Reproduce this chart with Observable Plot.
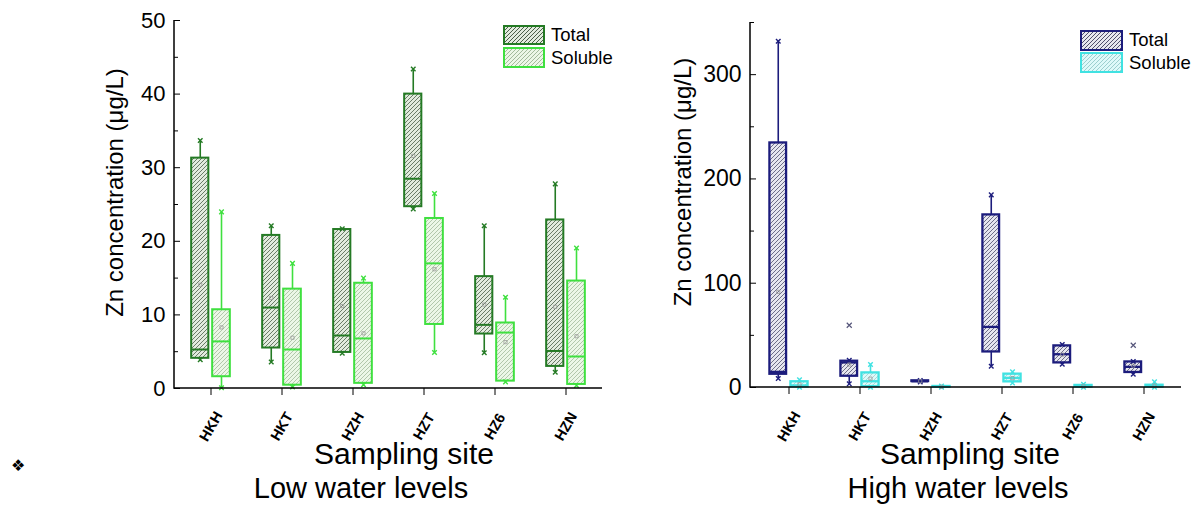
<!DOCTYPE html>
<html><head><meta charset="utf-8">
<script src="https://cdn.jsdelivr.net/npm/d3@7"></script>
<script src="https://cdn.jsdelivr.net/npm/@observablehq/plot@0.6"></script>
<style>
body{margin:0;background:#fff;}
#page{position:relative;width:1199px;height:506px;overflow:hidden;font-family:"Liberation Sans",Arial,sans-serif;color:#000;background:#fff;}
.abs{position:absolute;white-space:nowrap;line-height:1;}
.c{transform:translateX(-50%);}
.sw{position:absolute;box-sizing:border-box;}
.panel{position:absolute;top:0;}
</style></head><body><div id="page"></div>
<script>
// ---------- data ----------
const sites = ["HKH", "HKT", "HZH", "HZT", "HZ6", "HZN"];
const seriesNames = ["Total", "Soluble"];
const lowTicksMajor = [0, 10, 20, 30, 40, 50];
const lowTicksMinor = [5, 15, 25, 35, 45];
const highTicksMajor = [0, 100, 200, 300];
const highTicksMinor = [50, 150, 250, 350];

// Low water levels – Total
const lowTotalMin    = [3.9, 3.6, 4.8, 24.4, 4.85, 2.2];
const lowTotalQ1     = [4.1, 5.5, 4.9, 24.7, 7.4, 3.0];
const lowTotalMedian = [5.3, 11.0, 7.2, 28.5, 8.65, 5.1];
const lowTotalQ3     = [31.3, 20.8, 21.6, 40.0, 15.2, 22.9];
const lowTotalMax    = [33.7, 22.1, 21.7, 43.4, 22.1, 27.8];
const lowTotalMean   = [14.1, 12.3, 11.2, 31.6, 11.4, 11.1];
// Low water levels – Soluble
const lowSolMin    = [0.1, 0.2, 0.5, 4.9, 0.9, 0.4];
const lowSolQ1     = [1.6, 0.45, 0.7, 8.7, 1.0, 0.55];
const lowSolMedian = [6.4, 5.3, 6.8, 17.0, 7.6, 4.35];
const lowSolQ3     = [10.7, 13.5, 14.3, 23.1, 8.9, 14.6];
const lowSolMax    = [24.0, 17.0, 15.0, 26.5, 12.4, 19.1];
const lowSolMean   = [8.3, 6.9, 7.5, 16.2, 6.3, 7.1];

// High water levels – Total
const highTotalMin     = [8.6, 3.5, 5.3, 20.4, 22.3, 12.7];
const highTotalQ1      = [12.7, 10.8, 5.7, 34.1, 23.6, 14.4];
const highTotalMedian  = [15.0, 24.0, 6.0, 58.1, 31.9, 19.8];
const highTotalQ3      = [234.5, 25.2, 6.4, 165.5, 39.9, 24.5];
const highTotalMax     = [332, 26.0, 6.8, 184.7, 41.2, 25.0];
const highTotalMean    = [91.7, 22.0, 6.0, 83.7, 31.5, 21.0];
const highTotalOutlier = [null, 59.7, null, null, null, 40.5];
// High water levels – Soluble
const highSolMin    = [0.3, 0.3, 0.2, 4.4, 0.3, 0.3];
const highSolQ1     = [0.5, 0.8, 0.3, 5.4, 0.5, 0.5];
const highSolMedian = [2.0, 6.0, 0.6, 9.2, 1.0, 1.2];
const highSolQ3     = [5.5, 14.0, 1.0, 12.8, 2.0, 2.2];
const highSolMax    = [7.5, 22.0, 1.5, 15.0, 3.2, 5.4];
const highSolMean   = [3.0, 8.5, 0.7, 9.0, 1.2, 1.8];

// ---------- helpers ----------
function rows(min, q1, med, q3, max, mean, out) {
  return sites.map((site, i) => ({site, min: min[i], q1: q1[i], median: med[i], q3: q3[i], max: max[i], mean: mean[i], outlier: out ? out[i] : null}));
}

function boxMarks(data, {stroke, fill, insetLeft, insetRight, dx, sw}) {
  return [
    Plot.ruleX(data, {x: "site", y1: "min", y2: "q1", dx, stroke, strokeWidth: 1.6}),
    Plot.ruleX(data, {x: "site", y1: "q3", y2: "max", dx, stroke, strokeWidth: 1.6}),
    Plot.barY(data, {x: "site", y1: "q1", y2: "q3", insetLeft, insetRight, fill, stroke, strokeWidth: sw}),
    Plot.tickY(data, {x: "site", y: "median", insetLeft, insetRight, stroke, strokeWidth: sw}),
    Plot.dot(data, {x: "site", y: "min", dx, symbol: "times", r: 2.2, stroke, strokeWidth: 1.4}),
    Plot.dot(data, {x: "site", y: "max", dx, symbol: "times", r: 2.2, stroke, strokeWidth: 1.4}),
    Plot.dot(data, {x: "site", y: "mean", dx, symbol: "square", r: 1.8, stroke: "#9a9a9a", strokeWidth: 0.8, fill: "none"}),
    Plot.dot(data.filter(d => d.outlier != null), {x: "site", y: "outlier", dx, symbol: "times", r: 2.4, stroke: "#55557a", strokeWidth: 1.2})
  ];
}

function addPattern(defs, id, bg, line) {
  const p = defs.append("pattern").attr("id", id).attr("patternUnits", "userSpaceOnUse").attr("width", 4).attr("height", 4);
  p.append("rect").attr("width", 4).attr("height", 4).attr("fill", bg);
  p.append("path").attr("d", "M-1,1L1,-1M0,4L4,0M3,5L5,3").attr("stroke", line).attr("stroke-width", 0.8);
}

function panel(cfg) {
  const {total, soluble, domain, majors, minors, width, height, mL, mR, mT, mB, colT, colS, idT, idS, labelDx, labelDy, tickDy, sw} = cfg;
  const bw = (width - mL - mR) / sites.length;
  const axisLines = (index, scales, values, dims) => {
    const g = d3.create("svg:g");
    const x0 = dims.marginLeft, x1 = dims.width - dims.marginRight;
    const y0 = dims.height - dims.marginBottom, y1 = dims.marginTop;
    g.append("path").attr("d", `M${x0},${y1}V${y0}H${x1}`).attr("fill", "none").attr("stroke", "#000").attr("stroke-width", 1.5);
    return g.node();
  };
  const svg = Plot.plot({
    width, height, marginLeft: mL, marginRight: mR, marginTop: mT, marginBottom: mB,
    style: {fontFamily: '"Liberation Sans", Arial, sans-serif', color: "#000", background: "transparent", overflow: "visible"},
    x: {type: "band", domain: sites, padding: 0, label: null},
    y: {domain, label: null},
    marks: [
      ...boxMarks(total, {stroke: colT, fill: `url(#${idT})`, insetLeft: bw / 2 - 19.5, insetRight: bw / 2 + 2, dx: -10.75, sw}),
      ...boxMarks(soluble, {stroke: colS, fill: `url(#${idS})`, insetLeft: bw / 2 + 1.5, insetRight: bw / 2 - 19.5, dx: 10.5, sw}),
      axisLines,
      Plot.axisY({ticks: majors, tickSize: 0, tickPadding: 9, fontSize: cfg.yFont, label: null, tickFormat: d => String(d)}),
      Plot.axisY({ticks: majors, tickSize: -6, tickFormat: () => "", label: null}),
      Plot.axisY({ticks: minors, tickSize: -4, tickFormat: () => "", label: null}),
      Plot.axisX({tickSize: 7, tickFormat: () => "", label: null}),
      Plot.text(sites, {x: d => d, text: d => d, frameAnchor: "bottom", dy: tickDy, rotate: -60, textAnchor: "middle", lineAnchor: "middle", fontSize: 14.5, fontWeight: "bold"}),
      Plot.text(["Zn concentration (μg/L)"], {text: d => d, frameAnchor: "left", textAnchor: "middle", lineAnchor: "middle", rotate: -90, dx: labelDx, dy: labelDy, fontSize: 24})
    ]
  });
  const defs = d3.select(svg).insert("defs", ":first-child");
  addPattern(defs, idT, cfg.patT[0], cfg.patT[1]);
  addPattern(defs, idS, cfg.patS[0], cfg.patS[1]);
  return svg;
}

const page = document.getElementById("page");

function place(el, left) {
  const d = document.createElement("div");
  d.className = "panel";
  d.style.left = left + "px";
  d.appendChild(el);
  page.appendChild(d);
}

const left = panel({
  total: rows(lowTotalMin, lowTotalQ1, lowTotalMedian, lowTotalQ3, lowTotalMax, lowTotalMean),
  soluble: rows(lowSolMin, lowSolQ1, lowSolMedian, lowSolQ3, lowSolMax, lowSolMean),
  domain: [0, 50], majors: lowTicksMajor, minors: lowTicksMinor,
  width: 610, height: 450, mL: 174, mR: 8, mT: 20, mB: 62,
  colT: "#247a24", colS: "#3fe03f", idT: "hatchLowT", idS: "hatchLowS",
  patT: ["#e2ebde", "#4b5e49"], patS: ["#ecf7e7", "#a3bb9c"],
  labelDx: -59, labelDy: -12, tickDy: 38, yFont: 22, sw: 2
});
place(left, 0);

const right = panel({
  total: rows(highTotalMin, highTotalQ1, highTotalMedian, highTotalQ3, highTotalMax, highTotalMean, highTotalOutlier),
  soluble: rows(highSolMin, highSolQ1, highSolMedian, highSolQ3, highSolMax, highSolMean),
  domain: [0, 350], majors: highTicksMajor, minors: highTicksMinor,
  width: 589, height: 450, mL: 140, mR: 18, mT: 22, mB: 63,
  colT: "#1c1c7c", colS: "#40e2e2", idT: "hatchHighT", idS: "hatchHighS",
  patT: ["#e6e6ef", "#4e4e6c"], patS: ["#def9f9", "#9ccfcf"],
  labelDx: -67, labelDy: -23, tickDy: 39, yFont: 23, sw: 2.3
});
place(right, 610);

// ---------- HTML text: axis titles, captions, legends ----------
function text(str, x, y, size, center) {
  const d = document.createElement("div");
  d.className = "abs" + (center ? " c" : "");
  d.style.left = x + "px"; d.style.top = y + "px"; d.style.fontSize = size + "px";
  d.textContent = str;
  page.appendChild(d);
}
text("Sampling site", 404, 439, 30, true);
text("Sampling site", 970, 439, 30, true);
text("Low water levels", 361, 474, 29, true);
text("High water levels", 958, 474, 29, true);
const star = document.createElement("div");
star.className = "abs"; star.style.left = "11px"; star.style.top = "458px"; star.style.fontSize = "16px";
star.style.fontFamily = '"DejaVu Sans", sans-serif';
star.textContent = "❖";
page.appendChild(star);

function swatch(x, y, w, h, border, bg, line) {
  const s = document.createElement("div");
  s.className = "sw";
  s.style.left = x + "px"; s.style.top = y + "px"; s.style.width = w + "px"; s.style.height = h + "px";
  s.style.border = `2px solid ${border}`;
  s.style.background = `repeating-linear-gradient(135deg, ${bg} 0px, ${bg} 2px, ${line} 2px, ${line} 2.8px)`;
  page.appendChild(s);
}
// left legend
swatch(503, 25, 42, 20, "#247a24", "#e2ebde", "#4b5e49");
swatch(503, 47, 42, 21, "#3fe03f", "#ecf7e7", "#a3bb9c");
text(seriesNames[0], 551, 26, 18.5, false);
text(seriesNames[1], 551, 48.5, 18.5, false);
// right legend
swatch(1080, 30, 43, 21, "#1c1c7c", "#e6e6ef", "#4e4e6c");
swatch(1080, 52, 43, 21, "#40e2e2", "#def9f9", "#9ccfcf");
text(seriesNames[0], 1129, 31, 18.5, false);
text(seriesNames[1], 1129, 53.5, 18.5, false);
</script>
</body></html>
